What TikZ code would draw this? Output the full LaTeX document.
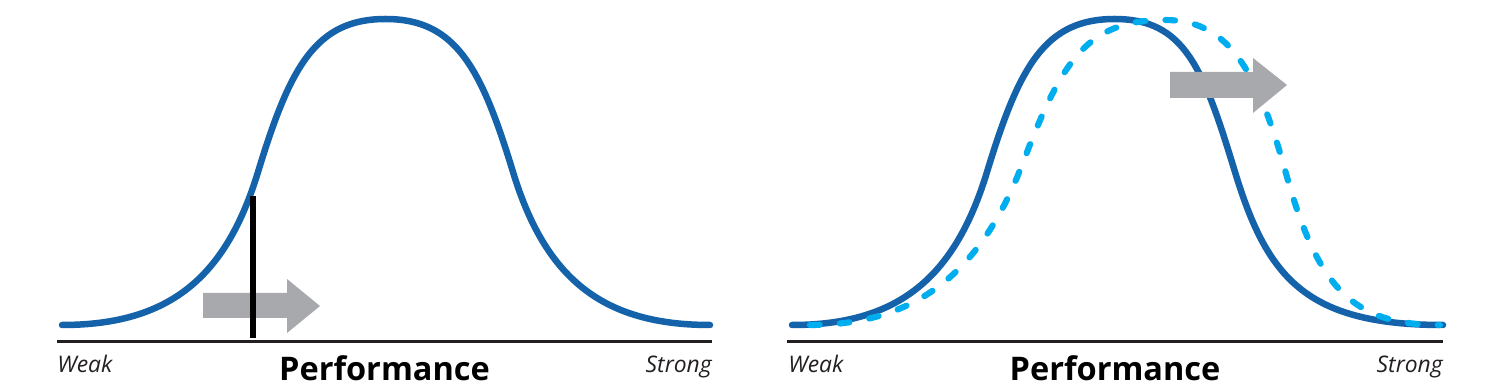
\documentclass[tikz,border=0pt]{standalone}
\usepackage{fontspec}
\setmainfont{Open Sans}
\definecolor{curveblue}{RGB}{20,99,170}
\definecolor{dashblue}{RGB}{0,174,239}
\definecolor{arrowgray}{RGB}{167,169,172}
\definecolor{axisblack}{RGB}{35,31,32}
\tikzset{
  bluecurve/.style={draw=curveblue, line width=3.7pt, line cap=round, line join=round},
  dashcurve/.style={draw=dashblue, line width=3.5pt, line cap=round, dash pattern=on 5.5pt off 11.5pt},
  axisline/.style={draw=axisblack, line width=1.5pt},
  graybar/.style={fill=arrowgray, draw=none},
  endlabel/.style={font=\fontsize{13}{15}\selectfont\itshape, inner sep=0pt, text=axisblack},
  titlelabel/.style={font=\fontsize{18.5}{22}\selectfont\bfseries, inner sep=0pt, text=black},
}
\begin{document}
\begin{tikzpicture}[x=0.02cm,y=-0.02cm]
\useasboundingbox (0,0) rectangle (1501,391);

% ---------- left panel ----------
\draw[axisline] (57,341.5) -- (712,341.5);
\draw[bluecurve] (62,325)
  .. controls (170,325) and (226,277) .. (258,172)
  .. controls (290,67) and (315.5,19) .. (385.5,19)
  .. controls (455.5,19) and (481,67) .. (513,172)
  .. controls (545,277) and (601,325) .. (710,325);
\fill[graybar] (203,293) -- (287,293) -- (287,279) -- (320,306) -- (287,333) -- (287,318) -- (203,318) -- cycle;
\draw[draw=black, line width=3pt] (253,196) -- (253,338);

\node[endlabel, anchor=base west] (weakL) at (57,373) {Weak};
\node[endlabel, anchor=base east] (strongL) at (712,373) {Strong};
\node[titlelabel, anchor=base] (perfL) at (384.5,380) {Performance};

% ---------- right panel ----------
\draw[axisline] (787,341.5) -- (1443,341.5);
\draw[bluecurve] (792,325)
  .. controls (899,325) and (955,277) .. (987,172)
  .. controls (1019,67) and (1044.5,19) .. (1114.5,19)
  .. controls (1184.5,19) and (1203,67) .. (1235,172)
  .. controls (1267,277) and (1305,325) .. (1443,325);
\draw[dashcurve] (810,325)
  .. controls (920,325) and (982.5,267.6) .. (1022,165)
  .. controls (1061.5,62.4) and (1085,20) .. (1165,20)
  .. controls (1225,20) and (1255.5,64) .. (1285,170)
  .. controls (1317,285.6) and (1350,325) .. (1440,325);
\fill[graybar] (1170,72) -- (1253,72) -- (1253,58) -- (1287,85) -- (1253,113) -- (1253,98) -- (1170,98) -- cycle;

\node[endlabel, anchor=base west] (weakR) at (788,373) {Weak};
\node[endlabel, anchor=base east] (strongR) at (1443,373) {Strong};
\node[titlelabel, anchor=base] (perfR) at (1115,380) {Performance};
\end{tikzpicture}
\end{document}
